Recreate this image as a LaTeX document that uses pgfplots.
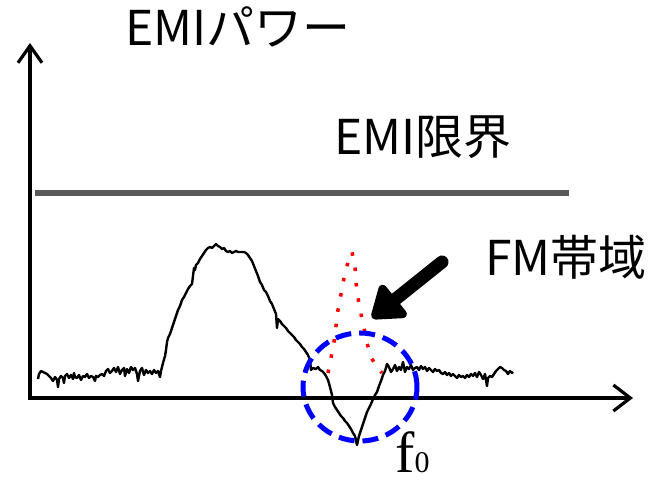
\documentclass[border=0pt]{standalone}
\usepackage{pgfplots}
\pgfplotsset{compat=1.18}
\usepackage{fontspec}
\newfontfamily\jp{Noto Sans CJK JP}
\newfontfamily\tms{Liberation Serif}
\usetikzlibrary{arrows.meta}
\definecolor{limitgray}{RGB}{89,89,89}

\pgfplotstableread{
x y
38 19
39 24
41 27
43 26
45 25
47 24
49 22
51 20
53 17
55 21
57 18
58 11
59 19
61 22
63 20
64 15
65 22
67 24
69 20
71 23
73 19
74 25
75 21
77 20
79 23
81 18
83 22
85 21
87 24
89 20
91 22
93 21
95 17
96 22
98 21
100 23
102 24
104 22
106 27
108 29
110 25
112 27
114 30
116 26
118 31
120 24
122 28
124 30
125 22
127 29
129 25
131 31
133 28
135 30
137 24
138 17
140 27
142 30
144 23
146 28
148 25
150 27
152 24
154 28
156 25
158 27
160 21
161 27
163 35
165 42
166 48
167 56
168 60
170 64
172 70
174 76
176 82
178 88
180 92
182 98
184 101
186 105
188 109
190 112
192 114
193 122
194 130
195 128
196 133
198 135
200 139
202 142
204 145
206 148
208 150
210 151
212 150
214 152
216 154
218 152
220 151
222 149
224 150
226 147
228 146
230 147
232 145
234 146
236 147
238 146
240 146
242 146
244 146
246 145
248 143
250 140
252 137
254 132
256 127
258 122
260 116
262 113
264 108
266 106
268 102
270 97
272 94
274 89
276 84
277 70
278 79
280 77
282 74
284 72
286 70
288 67
290 65
292 63
294 61
296 58
298 56
300 54
302 51
304 49
306 46
308 43
310 38
311 28
313 30
316 29
318 31
320 28
322 27
324 25
326 22
328 18
330 11
332 3
333 -5
335 -9
337 -12
339 -15
341 -18
343 -20
345 -23
347 -25
349 -28
351 -31
353 -35
355 -38
357 -47
359 -38
361 -32
363 -26
365 -20
367 -14
369 -10
371 -6
373 -1
375 3
377 6
379 12
381 17
383 23
385 27
387 34
389 31
391 26
393 29
395 33
397 27
399 31
401 28
403 36
405 26
407 31
409 29
411 33
413 28
415 30
417 31
419 28
421 32
423 29
425 31
427 27
429 30
431 28
433 26
435 29
437 27
439 28
441 25
443 24
445 26
447 23
449 25
451 22
453 24
455 22
457 20
459 23
461 21
463 22
465 20
467 23
469 21
471 24
473 22
475 25
477 21
479 26
481 23
483 19
485 24
487 12
488 20
490 22
492 21
494 24
496 27
498 29
500 31
502 30
504 28
506 27
508 24
510 27
512 25
513 26
}\emidata

\pgfplotstableread{
x y
328 25
331 40
334 56
336 72
338 88
341 104
344 120
348 136
352 146
355 132
356 116
358 100
361 84
364 70
367 55
371 41
376 32
382 25
}\fmdata

\begin{document}
\begin{tikzpicture}
\begin{axis}[
  width=662pt, height=483pt, scale only axis,
  xmin=0, xmax=662, ymin=-85, ymax=398,
  hide axis, clip=false,
]
\coordinate (BL) at (rel axis cs:0,0);
\coordinate (TR) at (rel axis cs:1,1);

% axes with arrows
\draw[line width=3.2pt, -{Straight Barb[length=17pt,width=24pt]}] (axis cs:30,-1.6) -- (axis cs:30,355);
\draw[line width=3.2pt, -{Straight Barb[length=17pt,width=26pt]}] (axis cs:28.4,0) -- (axis cs:633,0);

% EMI limit
\addplot[limitgray, line width=6pt, forget plot] coordinates {(35,205) (569,205)};

% EMI spectrum
\addplot[black, line width=2.4pt, line join=round, forget plot] table[x=x,y=y] {\emidata};

% FM band (red dotted)
\addplot[red, line width=3.5pt, dash pattern=on 3.5pt off 12pt, forget plot] table[x=x,y=y] {\fmdata};

% blue dashed circle
\draw[blue, line width=5pt, dash pattern=on 16pt off 8pt] (axis cs:360,11) ellipse [x radius=57pt, y radius=54pt];

% black arrow
\draw[line width=13pt, line cap=round, -{Triangle[length=34pt,width=46pt,round]}] (axis cs:442,136) -- (axis cs:372,80);

% labels
\node[anchor=base west, inner sep=0pt, font=\jp\fontsize{48}{50}\selectfont] at (axis cs:125,352) {EMIパワー};
\node[anchor=base west, inner sep=0pt, font=\jp\fontsize{48}{50}\selectfont] at (axis cs:334,243) {EMI限界};
\node[anchor=base west, inner sep=0pt, font=\jp\fontsize{48}{50}\selectfont] at (axis cs:485,123) {FM帯域};
\node[anchor=base west, inner sep=0pt, font=\tms\fontsize{58}{62}\selectfont] at (axis cs:395,-74) {f{\fontsize{30}{34}\selectfont 0}};
\end{axis}
\pgfresetboundingbox
\path (BL) rectangle (TR);
\end{tikzpicture}
\end{document}
